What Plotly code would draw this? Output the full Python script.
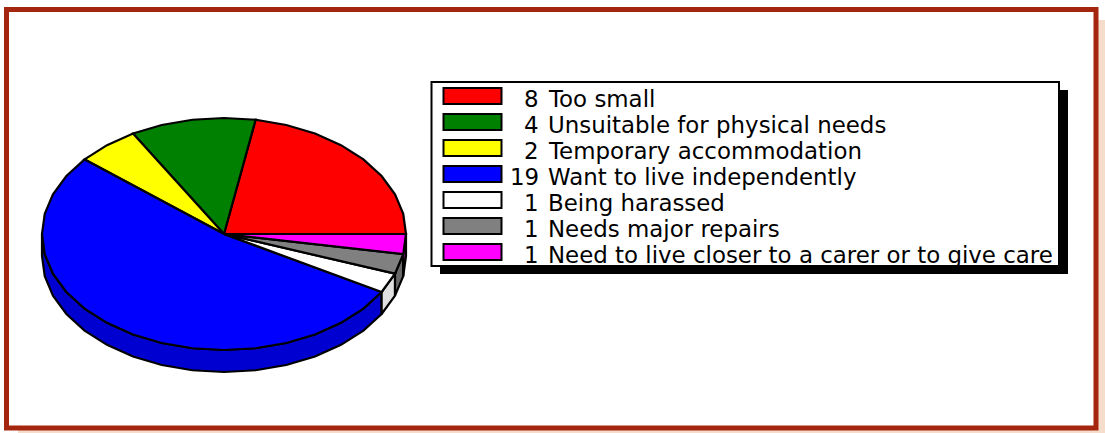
import math
import plotly.graph_objects as go

W, H = 1105, 433

values = [8, 4, 2, 19, 1, 1, 1]
labels = [
    "Too small",
    "Unsuitable for physical needs",
    "Temporary accommodation",
    "Want to live independently",
    "Being harassed",
    "Needs major repairs",
    "Need to live closer to a carer or to give care",
]
colors = ["#FF0000", "#008000", "#FFFF00", "#0000FF", "#FFFFFF", "#808080", "#FF00FF"]
wall_colors = ["#D00000", "#006800", "#D0D000", "#0000D0", "#E0E0E0", "#686868", "#D000D0"]

CX, CY, RX, RY, DEPTH = 224, 234, 182, 116, 22
STEP = 10.0  # polygon facet, degrees
FRAME = "#A5260E"
PEACH = "#F5DCCB"


def rim(a0, a1, dy=0.0):
    n = max(1, int(round((a1 - a0) / STEP)))
    pts = []
    for i in range(n + 1):
        a = math.radians(a0 + (a1 - a0) * i / n)
        pts.append((CX + RX * math.cos(a), CY - RY * math.sin(a) + dy))
    return pts


def poly(pts, fill):
    xs = [p[0] for p in pts] + [pts[0][0]]
    ys = [p[1] for p in pts] + [pts[0][1]]
    return go.Scatter(x=xs, y=ys, mode="lines", fill="toself", fillcolor=fill,
                      line=dict(color="#000000", width=2.2, shape="linear"),
                      hoverinfo="skip", showlegend=False)


total = sum(values)
spans = []
acc = 0
for v in values:
    spans.append((acc / total * 360, (acc + v) / total * 360))
    acc += v

fig = go.Figure()

# Side walls of the front half of the disc
for (a0, a1), wc in zip(spans, wall_colors):
    lo, hi = max(a0, 180), a1
    if hi > lo:
        top = rim(lo, hi)
        fig.add_trace(poly(top + rim(lo, hi, DEPTH)[::-1], wc))

# Top faces
for (a0, a1), c in zip(spans, colors):
    fig.add_trace(poly([(CX, CY)] + rim(a0, a1), c))

shapes = [
    dict(type="rect", x0=1098, x1=W, y0=20, y1=H, fillcolor=PEACH, line_width=0, layer="below"),
    dict(type="rect", x0=18, x1=W, y0=430, y1=H, fillcolor=PEACH, line_width=0, layer="below"),
    dict(type="rect", x0=6.5, x1=1096, y0=9.5, y1=428, fillcolor="#FFFFFF",
         line=dict(color=FRAME, width=5), layer="below"),
    dict(type="rect", x0=440, x1=1068, y0=90, y1=274, fillcolor="#000000", line_width=0, layer="below"),
    dict(type="rect", x0=431.5, x1=1059, y0=82, y1=266, fillcolor="#FFFFFF",
         line=dict(color="#000000", width=2), layer="below"),
]
annotations = []
for i, (v, lab, c) in enumerate(zip(values, labels, colors)):
    y = 88 + 26 * i
    shapes.append(dict(type="rect", x0=443.5, x1=501.5, y0=y, y1=y + 16, fillcolor=c,
                       line=dict(color="#000000", width=2), layer="below"))
    common = dict(xref="x", yref="y", y=y + 11, showarrow=False, yanchor="middle",
                  font=dict(family="DejaVu Sans", size=22.9, color="#000000"))
    annotations.append(dict(x=541, text=str(v), xanchor="right", **common))
    annotations.append(dict(x=545.5, text=lab, xanchor="left", **common))

fig.update_layout(
    width=W, height=H, margin=dict(l=0, r=0, t=0, b=0), autosize=False,
    paper_bgcolor="#FFFFFF", plot_bgcolor="#FFFFFF", showlegend=False,
    hovermode=False, shapes=shapes, annotations=annotations,
    xaxis=dict(range=[0, W], visible=False, fixedrange=True),
    yaxis=dict(range=[H, 0], visible=False, fixedrange=True),
)
fig.write_html("out.html", config={"displayModeBar": False},
               post_script="document.body.style.margin='0';document.body.style.overflow='hidden';")
